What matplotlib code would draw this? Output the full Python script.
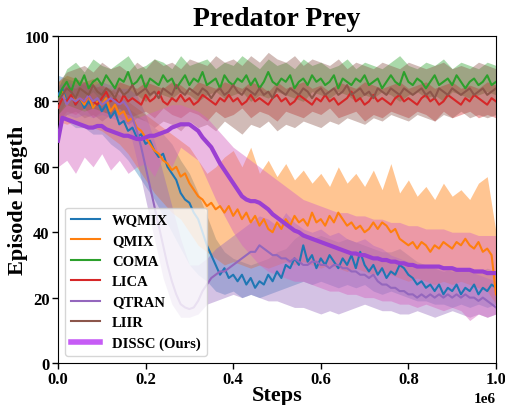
import numpy as np
import matplotlib
matplotlib.use("Agg")
import matplotlib.pyplot as plt
from matplotlib.lines import Line2D

# ---------------- data ----------------
labels = ["WQMIX", "QMIX", "COMA", "LICA", "QTRAN", "LIIR", "DISSC (Ours)"]

# means, sampled every 0.01e6 steps from 0 to 1e6
wqmix = [82, 84, 80, 82, 79, 81, 78, 80, 78, 80, 77, 79, 75, 77, 73, 74, 71, 72, 69, 70,
         67, 68, 65, 63, 64, 60, 58, 56, 52, 50, 49, 46, 44, 40, 36, 33, 30, 27, 29, 26,
         27, 25, 27, 24, 26, 23, 25, 24, 27, 25, 28, 26, 30, 29, 32, 30, 36, 31, 33, 29,
         32, 30, 33, 31, 29, 32, 30, 33, 29, 34, 30, 28, 30, 27, 29, 26, 28, 27, 30, 29,
         27, 26, 24, 25, 23, 24, 22, 24, 21, 23, 22, 24, 21, 23, 22, 24, 21, 23, 22, 24, 23]
qmix = [80, 83, 79, 82, 80, 81, 79, 82, 78, 80, 79, 81, 77, 79, 76, 77, 74, 75, 72, 71,
        69, 67, 65, 64, 62, 61, 59, 60, 57, 58, 55, 53, 51, 50, 48, 49, 47, 48, 46, 48,
        45, 47, 44, 46, 43, 45, 42, 44, 41, 40, 43, 41, 44, 42, 45, 43, 44, 42, 46, 43,
        44, 42, 45, 43, 46, 44, 42, 43, 41, 42, 40, 41, 43, 41, 43, 42, 40, 41, 38, 37,
        36, 37, 35, 37, 36, 34, 36, 35, 37, 36, 35, 37, 36, 38, 36, 35, 37, 34, 35, 33, 21]
coma = [80, 84, 86, 83, 87, 85, 88, 84, 86, 87, 85, 88, 86, 84, 87, 86, 89, 85, 86, 88,
        84, 87, 86, 85, 88, 86, 87, 84, 86, 88, 85, 87, 86, 89, 85, 86, 87, 84, 88, 86,
        85, 87, 86, 88, 85, 87, 84, 86, 89, 86, 85, 87, 86, 88, 84, 86, 87, 85, 88, 86,
        87, 85, 86, 88, 84, 87, 86, 85, 87, 86, 88, 85, 86, 87, 84, 86, 88, 86, 85, 89,
        86, 85, 87, 86, 84, 86, 88, 85, 86, 87, 85, 88, 86, 84, 86, 87, 85, 86, 88, 85, 86]
lica = [78, 81, 80, 82, 79, 81, 80, 82, 80, 79, 81, 83, 80, 81, 79, 82, 80, 81, 80, 79,
        82, 80, 81, 83, 80, 79, 81, 80, 82, 80, 81, 79, 80, 82, 81, 80, 79, 81, 80, 82,
        80, 81, 79, 80, 82, 80, 81, 80, 79, 81, 82, 80, 81, 79, 80, 82, 81, 80, 79, 81,
        80, 82, 80, 81, 79, 80, 81, 83, 80, 81, 79, 80, 82, 80, 81, 80, 79, 81, 82, 80,
        81, 80, 79, 81, 82, 80, 81, 79, 80, 82, 81, 80, 79, 81, 80, 82, 81, 80, 79, 81, 80]
qtran = [80, 82, 79, 81, 80, 81, 80, 82, 80, 81, 79, 80, 81, 80, 79, 80, 78, 75, 71, 66,
         60, 54, 48, 42, 36, 30, 25, 21, 18, 17, 16.5, 17, 19, 22, 24, 26, 27, 28, 28, 29,
         30, 31, 32, 33, 34, 34, 36, 35, 34, 33, 33, 32, 32, 31, 32, 31, 30, 30, 31, 31,
         30, 30, 29, 30, 30, 29, 29, 28, 28, 27, 27, 26, 27, 25, 24, 24, 23, 23, 22, 22,
         21, 21, 20, 21, 20, 21, 20, 21, 20, 21, 20, 21, 20, 21, 20, 20, 19, 20, 19, 18, 17]
liir = [80, 82, 84, 83, 81, 84, 83, 82, 85, 83, 82, 84, 83, 81, 84, 82, 83, 85, 82, 83,
        84, 82, 83, 81, 84, 83, 82, 85, 83, 82, 84, 83, 82, 84, 83, 81, 83, 84, 82, 83,
        85, 83, 82, 84, 83, 82, 84, 82, 83, 81, 84, 83, 82, 84, 83, 82, 84, 83, 81, 83,
        84, 82, 83, 84, 82, 83, 85, 82, 83, 84, 82, 83, 81, 84, 83, 82, 84, 83, 82, 84,
        83, 82, 83, 84, 82, 83, 81, 84, 83, 82, 84, 83, 82, 83, 84, 82, 83, 84, 82, 83, 84]
dissc = [68, 75, 74.5, 74, 73.5, 73, 72.5, 72, 72, 72.5, 72.5, 71.5, 71, 70.5, 70, 69.5, 69.5, 69, 68.5, 68.5,
         69, 69.5, 69.5, 70, 70.5, 71, 72, 72.5, 73, 73, 73, 72, 71, 69, 67.5, 66, 63.5, 61, 59, 57,
         55, 53, 51, 50, 49.5, 49.5, 49, 48, 47, 45.5, 44.5, 43.5, 42.5, 41.5, 40.5, 40, 39, 38.5, 38, 37.5,
         37, 36.5, 36, 35.5, 35, 34.5, 34, 33.5, 33.5, 33, 33, 32.5, 32, 32, 31.5, 31.5, 31, 31, 30.5, 30.5,
         30, 30, 29.5, 29.5, 29.5, 29.5, 29.5, 29.5, 29, 29, 29, 28.5, 28.5, 28.5, 28.5, 28, 28, 28, 27.5, 27.5, 27.5]

# band bounds, sampled every 0.02e6 steps from 0 to 1e6
wqmix_lo = [76, 74, 72, 72, 70, 70, 67, 65, 62, 58, 54, 50, 45, 40, 35, 30, 27, 25, 22, 21,
            22, 20, 21, 20, 21, 22, 23, 24, 25, 24, 25, 24, 23, 24, 23, 24, 22, 21, 22, 21,
            20, 19, 19, 18, 18, 17, 18, 17, 18, 17, 18]
wqmix_hi = [88, 87, 86, 85, 85, 84, 82, 80, 78, 76, 74, 72, 70, 67, 62, 58, 52, 45, 38, 34,
            32, 31, 30, 31, 32, 34, 35, 38, 40, 38, 39, 38, 37, 38, 37, 36, 35, 34, 34, 35,
            33, 31, 30, 29, 28, 29, 28, 29, 28, 29, 28]
qmix_lo = [74, 73, 74, 72, 72, 71, 69, 67, 64, 60, 56, 52, 49, 46, 44, 40, 36, 34, 32, 30,
           31, 30, 29, 30, 29, 30, 31, 30, 31, 30, 29, 30, 29, 28, 29, 28, 27, 28, 27, 26,
           25, 26, 25, 24, 25, 24, 25, 24, 23, 22, 18]
qmix_hi = [86, 88, 87, 86, 87, 85, 84, 82, 80, 78, 76, 74, 72, 70, 68, 66, 62, 58, 60, 63,
           65, 60, 66, 58, 62, 57, 61, 56, 59, 55, 58, 54, 60, 55, 58, 54, 59, 53, 61, 52,
           56, 51, 54, 50, 55, 51, 53, 50, 55, 57, 40]
coma_lo = [76, 80, 82, 81, 83, 80, 82, 83, 81, 82, 80, 83, 82, 81, 83, 82, 80, 82, 83, 81,
           82, 83, 80, 82, 81, 83, 82, 81, 80, 83, 82, 81, 83, 82, 80, 82, 81, 83, 82, 80,
           82, 83, 81, 82, 80, 83, 82, 81, 82, 83, 82]
coma_hi = [84, 90, 92, 89, 93, 91, 90, 92, 94, 90, 91, 93, 92, 90, 94, 91, 92, 93, 90, 92,
           91, 94, 92, 90, 93, 91, 92, 90, 93, 91, 92, 90, 91, 93, 90, 92, 91, 90, 92, 94,
           91, 90, 92, 91, 93, 90, 92, 91, 90, 92, 91]
lica_lo = [74, 77, 76, 78, 75, 77, 76, 78, 75, 76, 77, 75, 78, 76, 75, 77, 76, 74, 77, 75,
           76, 78, 75, 77, 76, 74, 77, 76, 75, 77, 76, 78, 75, 76, 77, 74, 76, 75, 77, 76,
           75, 77, 76, 74, 77, 75, 76, 77, 75, 76, 75]
lica_hi = [82, 85, 84, 86, 84, 85, 83, 86, 85, 84, 86, 85, 84, 86, 85, 83, 86, 85, 84, 86,
           85, 84, 86, 85, 83, 86, 84, 85, 86, 84, 85, 83, 86, 85, 84, 86, 85, 84, 85, 86,
           84, 85, 86, 84, 85, 86, 84, 85, 84, 86, 85]
qtran_lo = [75, 76, 75, 76, 75, 76, 75, 74, 73, 62, 50, 38, 26, 18, 14, 14, 15, 18, 19, 20,
            21, 20, 21, 20, 19, 19, 18, 17, 17, 16, 15, 16, 15, 16, 17, 18, 17, 16, 16, 15,
            15, 16, 15, 14, 15, 16, 15, 14, 15, 14, 15]
qtran_hi = [85, 86, 85, 86, 85, 86, 85, 84, 84, 82, 76, 68, 58, 48, 38, 30, 30, 32, 35, 37,
            39, 41, 43, 45, 44, 42, 46, 43, 41, 40, 41, 39, 40, 38, 37, 38, 36, 35, 33, 32,
            31, 30, 29, 30, 29, 28, 29, 28, 27, 26, 25]
liir_lo = [72, 76, 77, 75, 76, 74, 76, 75, 73, 75, 74, 72, 74, 73, 71, 74, 72, 73, 71, 74,
           72, 70, 73, 72, 74, 71, 73, 72, 74, 73, 72, 74, 73, 75, 74, 73, 75, 74, 76, 75,
           74, 76, 75, 74, 76, 75, 77, 75, 76, 75, 76]
liir_hi = [86, 89, 90, 91, 89, 92, 90, 91, 89, 92, 90, 93, 91, 92, 90, 93, 92, 91, 94, 92,
           93, 91, 94, 92, 95, 93, 92, 94, 91, 93, 92, 91, 93, 90, 92, 91, 90, 92, 91, 90,
           92, 91, 90, 91, 92, 90, 91, 90, 92, 91, 90]
dissc_lo = [60, 62, 58, 63, 60, 64, 59, 62, 58, 60, 61, 57, 63, 60, 66, 64, 62, 56, 50, 45,
            40, 36, 33, 30, 28, 27, 26, 25, 25, 24, 23, 22, 22, 21, 21, 20, 20, 19, 19, 18,
            18, 17, 18, 17, 16, 17, 16, 13, 15, 14, 15]
dissc_hi = [76, 79, 78, 77, 78, 77, 76, 77, 76, 75, 76, 77, 78, 79, 79, 78, 77, 75, 72, 69,
            66, 64, 62, 60, 58, 56, 54, 52, 50, 49, 48, 47, 46, 46, 45, 45, 44, 44, 43, 43,
            42, 42, 41, 41, 41, 40, 40, 40, 39, 39, 39]

means = [wqmix, qmix, coma, lica, qtran, liir, dissc]
lows = [wqmix_lo, qmix_lo, coma_lo, lica_lo, qtran_lo, liir_lo, dissc_lo]
highs = [wqmix_hi, qmix_hi, coma_hi, lica_hi, qtran_hi, liir_hi, dissc_hi]

colors = ["#1f77b4", "#ff7f0e", "#2ca02c", "#d62728", "#9467bd", "#8c564b", "#9b3fd2"]
band_colors = ["#1f77b4", "#ff7f0e", "#2ca02c", "#d62728", "#9467bd", "#8c564b", "#d665c0"]
band_alpha = [0.35, 0.45, 0.4, 0.4, 0.4, 0.4, 0.45]

# ---------------- plotting ----------------
plt.rcParams["font.family"] = ["Liberation Serif", "DejaVu Serif"]
plt.rcParams["font.weight"] = "bold"

fig = plt.figure(figsize=(5.06, 4.06), dpi=100)
ax = fig.add_axes([0.1146, 0.1034, 0.8656, 0.8054])

scale = 1e6
for i in range(len(labels)):
    lo = np.asarray(lows[i], dtype=float)
    hi = np.asarray(highs[i], dtype=float)
    xb = np.linspace(0, 1, len(lo)) * scale
    ax.fill_between(xb, lo, hi, color=band_colors[i], alpha=band_alpha[i], linewidth=0)

for i in range(len(labels)):
    m = np.asarray(means[i], dtype=float)
    xm = np.linspace(0, 1, len(m)) * scale
    lw = 3.0 if i == len(labels) - 1 else 1.5
    ax.plot(xm, m, color=colors[i], linewidth=lw, zorder=3 + (i == len(labels) - 1))

ax.set_xlim(0, scale)
ax.set_ylim(0, 100)
ax.set_xticks(np.array([0, 0.2, 0.4, 0.6, 0.8, 1.0]) * scale)
ax.set_yticks([0, 20, 40, 60, 80, 100])
ax.tick_params(labelsize=12, length=4, width=1, pad=2)
for lab in ax.get_xticklabels() + ax.get_yticklabels():
    lab.set_fontweight("bold")
ax.xaxis.get_offset_text().set_fontsize(11)
ax.xaxis.get_offset_text().set_fontweight("bold")

ax.set_title("Predator Prey", fontsize=20, fontweight="bold", pad=8)
ax.set_xlabel("Steps", fontsize=16, fontweight="bold", labelpad=-2)
ax.set_ylabel("Episode Length", fontsize=16, fontweight="bold")
ax.yaxis.set_label_coords(-0.068, 0.5)

legend_colors = colors[:-1] + ["#c65cf5"]
handles = [Line2D([0], [0], color=legend_colors[i], lw=(4 if i == len(labels) - 1 else 1.5))
           for i in range(len(labels))]
leg = ax.legend(handles, labels, loc="lower left", framealpha=0.8,
                prop={"weight": "bold", "size": 10.5, "family": ["Liberation Serif"]},
                labelspacing=0.5)
leg.set_zorder(10)

fig.savefig("out.png", dpi=100)
